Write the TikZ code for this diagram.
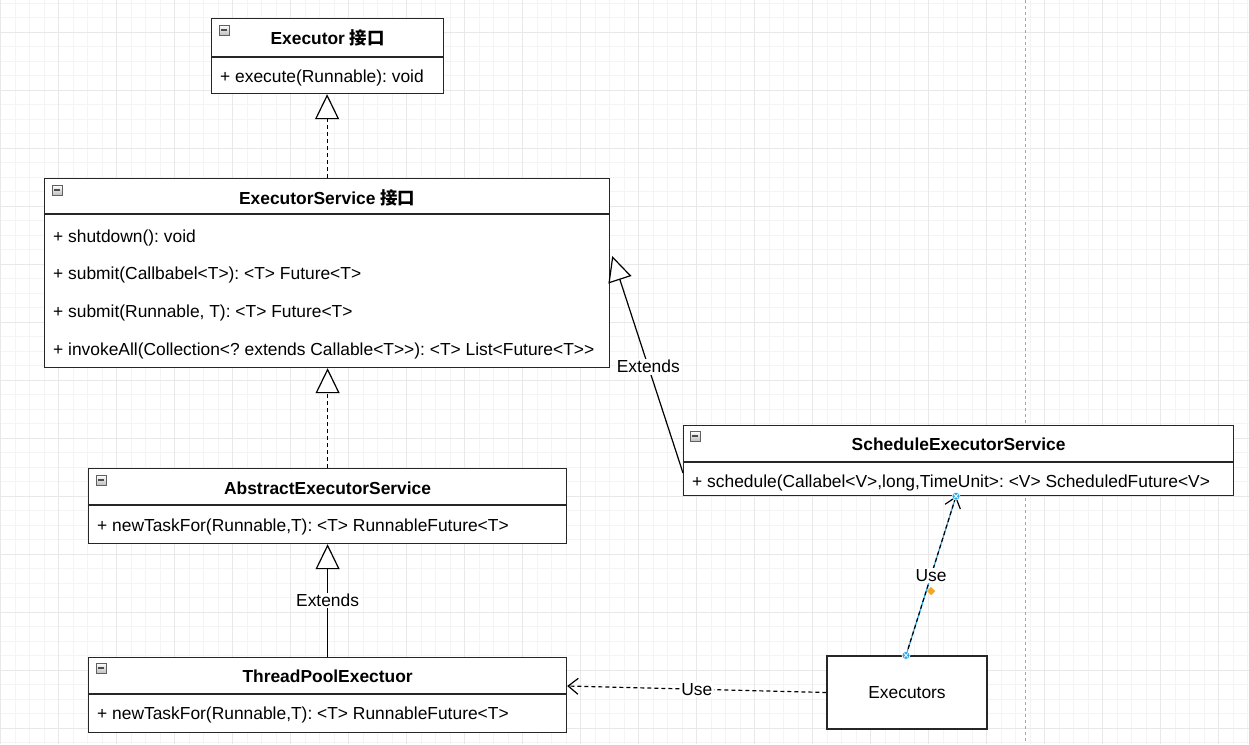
\documentclass[tikz,border=0pt]{standalone}
\usepackage{fontspec}
\setmainfont{Liberation Sans}
\newfontfamily\cjk{Noto Sans CJK SC}
\usetikzlibrary{arrows.meta,calc}
\definecolor{gridminor}{HTML}{F4F4F4}
\definecolor{gridmajor}{HTML}{E8E8E8}
\definecolor{selblue}{HTML}{29A8E8}
\definecolor{selorange}{HTML}{F5A623}
\newcommand\umlfont{\fontsize{17.4}{20}\selectfont\frenchspacing}
\tikzset{
  cbox/.style={draw=black!85, line width=1.2pt, fill=white, anchor=north west, inner sep=0pt},
  divider/.style={draw=black!85, line width=1.2pt},
  ctitle/.style={font=\umlfont\bfseries, inner sep=0pt},
  crow/.style={anchor=west, inner sep=0pt},
  mbox/.style={draw=gray!75!black, line width=0.5pt, top color=white, bottom color=gray!50, minimum size=10pt, inner sep=0pt,
    path picture={\draw[line width=1.4pt, black!70] ([xshift=2pt]path picture bounding box.west) -- ([xshift=-2pt]path picture bounding box.east);}},
  conn/.style={draw=black, line width=1.2pt},
  dashconn/.style={conn, dash pattern=on 4pt off 3pt},
  hollowtri/.style={-{Triangle[open, length=25pt, width=24pt, fill=white, line width=1.2pt]}},
  openarr/.style={-{Straight Barb[length=10pt, width=16pt, line width=1.2pt]}},
  lbl/.style={fill=white, inner sep=1.5pt},
  handle/.style={circle, draw=white, line width=0.6pt, fill=selblue, minimum size=8pt, inner sep=0pt,
    path picture={\draw[white, line width=0.8pt] ([shift={(-2pt,-2pt)}]path picture bounding box.center) -- ([shift={(2pt,2pt)}]path picture bounding box.center) ([shift={(-2pt,2pt)}]path picture bounding box.center) -- ([shift={(2pt,-2pt)}]path picture bounding box.center);}},
  diam/.style={fill=selorange, minimum size=6pt, inner sep=0pt, rotate=45}
}
\begin{document}
\begin{tikzpicture}[x=1pt, y=-1pt, font=\umlfont]
\useasboundingbox (0,0) rectangle (1249,744);
\fill[white] (0,0) rectangle (1249,744);
% grid
\foreach \i in {0,...,86} {
  \draw[gridminor, line width=0.7pt] ({0.7+14.5*\i},0) -- ({0.7+14.5*\i},744);
}
\foreach \j in {0,...,51} {
  \draw[gridminor, line width=0.7pt] (0,{3.3+14.5*\j}) -- (1249,{3.3+14.5*\j});
}
\foreach \i in {0,...,21} {
  \draw[gridmajor, line width=0.8pt] ({0.7+58*\i},0) -- ({0.7+58*\i},744);
}
\foreach \j in {0,...,13} {
  \draw[gridmajor, line width=0.8pt] (0,{32.3+58*\j}) -- (1249,{32.3+58*\j});
}
\draw[gray!70, line width=0.8pt, dash pattern=on 3pt off 3pt] (1025,0) -- (1025,744);

% Executor
\node[cbox, minimum width=232pt, minimum height=75pt] (exe) at (211,18) {};
\draw[divider] ($(exe.north west)+(0,39)$) -- ($(exe.north east)+(0,39)$);
\node[ctitle] (exeT) at ($(exe.north)+(0,20)$) {Executor {\cjk 接口}};
\node[crow] (exeA) at ($(exe.north west)+(9,60)$) {+ execute(Runnable): void};
\node[mbox] (exeM) at ($(exe.north west)+(13,12)$) {};

% ExecutorService
\node[cbox, minimum width=565pt, minimum height=189pt] (es) at (44,178) {};
\draw[divider] ($(es.north west)+(0,36)$) -- ($(es.north east)+(0,36)$);
\node[ctitle] (esT) at ($(es.north)+(0,20)$) {ExecutorService {\cjk 接口}};
\node[crow] (esA1) at ($(es.north west)+(9,60)$) {+ shutdown(): void};
\node[crow] (esA2) at ($(es.north west)+(9,97)$) {+ submit(Callbabel<T>): <T> Future<T>};
\node[crow] (esA3) at ($(es.north west)+(9,135)$) {+ submit(Runnable, T): <T> Future<T>};
\node[crow] (esA4) at ($(es.north west)+(9,173)$) {+ invokeAll(Collection<? extends Callable<T>{}>): <T> List<Future<T>{}>};
\node[mbox] (esM) at ($(es.north west)+(13,12)$) {};

% AbstractExecutorService
\node[cbox, minimum width=478pt, minimum height=75pt] (aes) at (88,468) {};
\draw[divider] ($(aes.north west)+(0,37)$) -- ($(aes.north east)+(0,37)$);
\node[ctitle] (aesT) at ($(aes.north)+(0,20)$) {AbstractExecutorService};
\node[crow] (aesA) at ($(aes.north west)+(9,59)$) {+ newTaskFor(Runnable,T): <T> RunnableFuture<T>};
\node[mbox] (aesM) at ($(aes.north west)+(13,12)$) {};

% ThreadPoolExectuor
\node[cbox, minimum width=478pt, minimum height=75pt] (tpe) at (88,657) {};
\draw[divider] ($(tpe.north west)+(0,37)$) -- ($(tpe.north east)+(0,37)$);
\node[ctitle] (tpeT) at ($(tpe.north)+(0,19)$) {ThreadPoolExectuor};
\node[crow] (tpeA) at ($(tpe.north west)+(9,58)$) {+ newTaskFor(Runnable,T): <T> RunnableFuture<T>};
\node[mbox] (tpeM) at ($(tpe.north west)+(13,11)$) {};

% ScheduleExecutorService
\node[cbox, minimum width=550pt, minimum height=70pt] (ses) at (683,425) {};
\draw[divider] ($(ses.north west)+(0,37)$) -- ($(ses.north east)+(0,37)$);
\node[ctitle] (sesT) at ($(ses.north)+(0,19)$) {ScheduleExecutorService};
\node[crow] (sesA) at ($(ses.north west)+(9,58)$) {+ schedule(Callabel<V>,long,TimeUnit>: <V> ScheduledFuture<V>};
\node[mbox] (sesM) at ($(ses.north west)+(12,11)$) {};

% Executors
\node[draw=black!85, line width=1.2pt, fill=white, minimum width=160pt, minimum height=73pt, inner sep=0pt] (exs) at (907,692.5) {Executors};

% connectors
\draw[dashconn, hollowtri] (es.north) -- (es.north |- exe.south);
\draw[dashconn, hollowtri] (aes.north) -- (aes.north |- es.south);
\draw[conn, hollowtri] (tpe.north) -- node[lbl, pos=0.5] (l1) {Extends} (tpe.north |- aes.south);

\coordinate (s1) at ($(ses.north west)+(0,48)$);
\coordinate (s2) at ($(es.north east)+(2,78)$);
\draw[conn, hollowtri] (s1) -- node[lbl, pos=0.49] (l2) {Extends} (s2);

\coordinate (u1) at ($(tpe.north east)+(0,29)$);
\draw[dashconn, openarr] (exs.west) -- node[lbl, pos=0.5] (l3) {Use} (u1);

\coordinate (v0) at ($(exs.north)+(-1,0)$);
\coordinate (v1) at ($(ses.south west)+(273,0)$);
\draw[selblue, line width=1.2pt] (v0) -- (v1);
\draw[dashconn, openarr] (v0) -- node[lbl, pos=0.5] (l4) {Use} (v1);
\node[handle] (h1) at (v0) {};
\node[handle] (h2) at (v1) {};
\node[diam] (d1) at (931,591) {};
\end{tikzpicture}
\end{document}
